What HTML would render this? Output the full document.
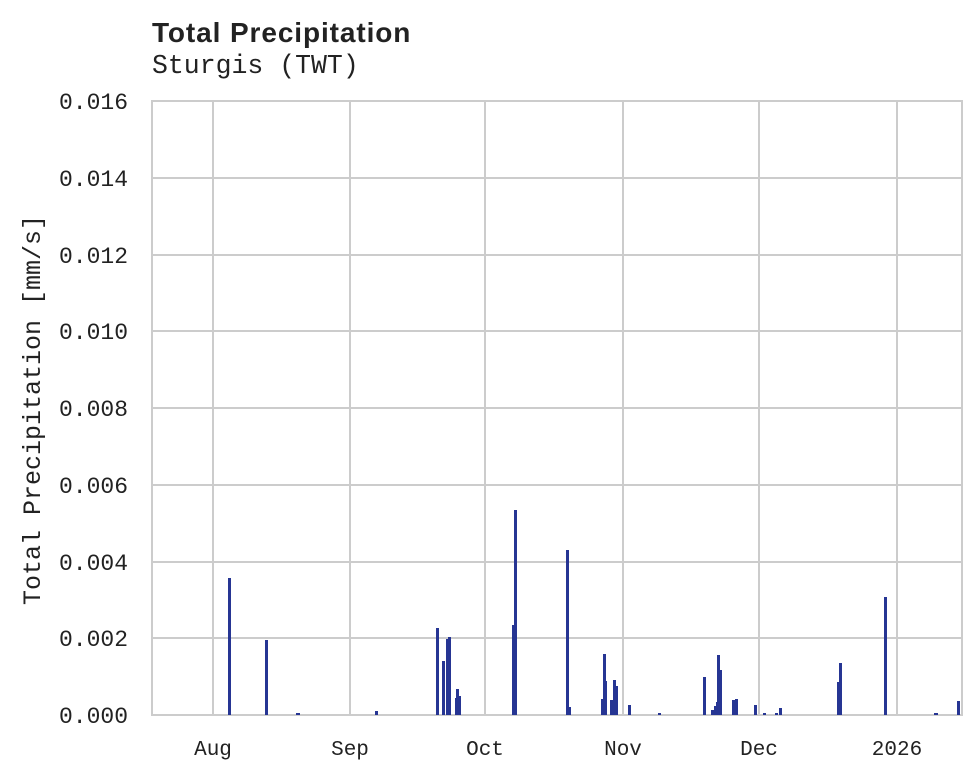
<!DOCTYPE html>
<html><head><meta charset="utf-8"><style>
html,body{margin:0;padding:0;background:#fff;}
svg{display:block;}
</style></head><body>
<svg width="980" height="780" xmlns="http://www.w3.org/2000/svg">
<rect width="980" height="780" fill="#fff"/>
<text x="152" y="42" font-family="Liberation Sans, sans-serif" font-weight="bold" font-size="28" letter-spacing="0.9" fill="#222">Total Precipitation</text>
<text x="152" y="73" font-family="Liberation Mono, monospace" font-size="26.5" fill="#222">Sturgis (TWT)</text>
<g stroke="#cccccc" stroke-width="2">
<line x1="152" x2="962" y1="178" y2="178"/><line x1="152" x2="962" y1="255" y2="255"/>
<line x1="152" x2="962" y1="331" y2="331"/><line x1="152" x2="962" y1="408" y2="408"/>
<line x1="152" x2="962" y1="485" y2="485"/><line x1="152" x2="962" y1="562" y2="562"/>
<line x1="152" x2="962" y1="638" y2="638"/>
<line x1="213" x2="213" y1="101" y2="715"/><line x1="350" x2="350" y1="101" y2="715"/>
<line x1="485" x2="485" y1="101" y2="715"/><line x1="623" x2="623" y1="101" y2="715"/>
<line x1="759" x2="759" y1="101" y2="715"/><line x1="897" x2="897" y1="101" y2="715"/>
<rect x="152" y="101" width="810" height="614" fill="none"/>
</g>
<g fill="#263593">
<rect x="228" y="578" width="3" height="137"/>
<rect x="265" y="640" width="3" height="75"/>
<rect x="296" y="713" width="4" height="2"/>
<rect x="375" y="711" width="3" height="4"/>
<rect x="436" y="628" width="3" height="87"/>
<rect x="442" y="661" width="3" height="54"/>
<rect x="446" y="639" width="2" height="76"/>
<rect x="448" y="637" width="3" height="78"/>
<rect x="455" y="698" width="2" height="17"/>
<rect x="456" y="689" width="3" height="26"/>
<rect x="458" y="696" width="3" height="19"/>
<rect x="512" y="625" width="2" height="90"/>
<rect x="514" y="510" width="3" height="205"/>
<rect x="566" y="550" width="3" height="165"/>
<rect x="568" y="707" width="3" height="8"/>
<rect x="601" y="699" width="2" height="16"/>
<rect x="603" y="654" width="3" height="61"/>
<rect x="605" y="681" width="2" height="34"/>
<rect x="610" y="700" width="3" height="15"/>
<rect x="613" y="680" width="3" height="35"/>
<rect x="615" y="686" width="3" height="29"/>
<rect x="628" y="705" width="3" height="10"/>
<rect x="658" y="713" width="3" height="2"/>
<rect x="703" y="677" width="3" height="38"/>
<rect x="711" y="710" width="3" height="5"/>
<rect x="714" y="706" width="2" height="9"/>
<rect x="716" y="702" width="2" height="13"/>
<rect x="717" y="655" width="3" height="60"/>
<rect x="719" y="670" width="3" height="45"/>
<rect x="732" y="700" width="3" height="15"/>
<rect x="735" y="699" width="3" height="16"/>
<rect x="754" y="705" width="3" height="10"/>
<rect x="763" y="713" width="3" height="2"/>
<rect x="775" y="713" width="3" height="2"/>
<rect x="779" y="708" width="3" height="7"/>
<rect x="837" y="682" width="2" height="33"/>
<rect x="839" y="663" width="3" height="52"/>
<rect x="884" y="597" width="3" height="118"/>
<rect x="934" y="713" width="4" height="2"/>
<rect x="957" y="701" width="3" height="14"/>
</g>
<g font-family="Liberation Mono, monospace" font-size="23" fill="#222" text-anchor="end">
<text x="128" y="109">0.016</text><text x="128" y="186">0.014</text>
<text x="128" y="263">0.012</text><text x="128" y="339">0.010</text>
<text x="128" y="416">0.008</text><text x="128" y="493">0.006</text>
<text x="128" y="570">0.004</text><text x="128" y="646">0.002</text>
<text x="128" y="723">0.000</text>
</g>
<g font-family="Liberation Mono, monospace" font-size="21" fill="#222" text-anchor="middle">
<text x="213" y="755">Aug</text><text x="350" y="755">Sep</text>
<text x="485" y="755">Oct</text><text x="623" y="755">Nov</text>
<text x="759" y="755">Dec</text><text x="897" y="755">2026</text>
</g>
<text transform="translate(40,410) rotate(-90)" font-family="Liberation Mono, monospace" font-size="25" fill="#222" text-anchor="middle">Total Precipitation [mm/s]</text>
</svg>
</body></html>
